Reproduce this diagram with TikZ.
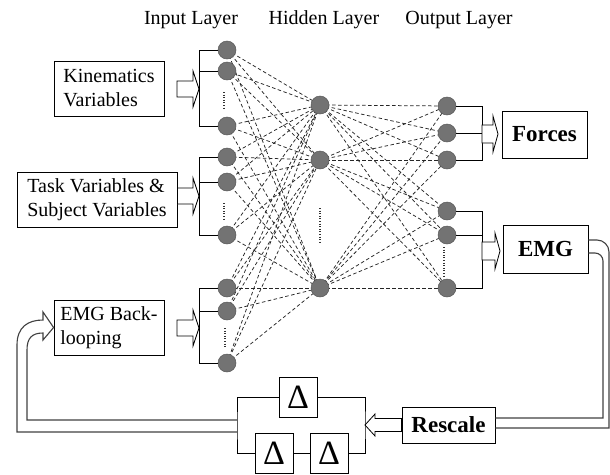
\documentclass[tikz,border=0pt]{standalone}
\usepackage{fontspec}
\setmainfont{Liberation Serif}
\usetikzlibrary{calc,backgrounds}

% hollow block arrow: start point, tip point, shaft half-height, head half-height, head length
\newcommand\blockarrow[5]{%
  \draw[hollow] let \p1=(#1), \p2=(#2) in
    (\x1,\y2+#3) -- (\x2-#5,\y2+#3) -- (\x2-#5,\y2+#4) -- (\x2,\y2)
    -- (\x2-#5,\y2-#4) -- (\x2-#5,\y2-#3) -- (\x1,\y2-#3) -- cycle;}

\begin{document}
\begin{tikzpicture}[x=1pt,y=-1pt,
  neuron/.style={circle, fill=black!55, draw=black!65, line width=0.5pt,
                 minimum size=18pt, inner sep=0pt},
  link/.style={draw=black!85, line width=0.75pt, dash pattern=on 3.5pt off 2.5pt},
  wire/.style={draw=black, line width=0.8pt},
  box/.style={draw=black, line width=0.8pt, fill=white, inner sep=0pt},
  inbox/.style={box, align=left, minimum height=55pt,
                font=\fontsize{20}{24}\selectfont},
  outbox/.style={box, font=\fontsize{23}{27}\selectfont\bfseries},
  dbox/.style={box, minimum width=38pt, minimum height=40pt,
               font=\fontsize{34}{36}\selectfont},
  title/.style={font=\fontsize{20}{24}\selectfont},
  pipe/.style={draw=black!75, line width=1.1pt},
  hollow/.style={draw=black, line width=0.8pt, fill=white, line join=miter},
  dotcol/.style={draw=black!80, line width=1.3pt, dash pattern=on 1pt off 1.6pt}
]
\useasboundingbox (0,0) rectangle (610,474);
\clip (0,0) rectangle (610,474);

% layer titles
\node[title] (tin)  at (191,20) {Input Layer};
\node[title] (thid) at (324,20) {Hidden Layer};
\node[title] (tout) at (459,20) {Output Layer};

% neurons
\foreach \n/\y in {1/50,2/71,3/126,4/157,5/182,6/235,7/288,8/311,9/363}
  \node[neuron] (in\n) at (227,\y) {};
\foreach \n/\y in {1/105,2/160,3/288}
  \node[neuron] (h\n) at (320,\y) {};
\foreach \n/\y in {1/106,2/133,3/160,4/211,5/235,6/288}
  \node[neuron] (o\n) at (447,\y) {};

% full connections
\begin{pgfonlayer}{background}
  \foreach \i in {1,...,9}
    \foreach \j in {1,2,3}
      \draw[link] (in\i.center) -- (h\j.center);
  \foreach \j in {1,2,3}
    \foreach \k in {1,...,6}
      \draw[link] (h\j.center) -- (o\k.center);
\end{pgfonlayer}

% elided neurons
\coordinate (e1a) at (224,92);  \coordinate (e1b) at (224,110);
\coordinate (e2a) at (224,203); \coordinate (e2b) at (224,219);
\coordinate (e3a) at (225,328); \coordinate (e3b) at (225,347);
\coordinate (ehA) at (320,208); \coordinate (ehB) at (320,243);
\coordinate (eoA) at (444,247); \coordinate (eoB) at (444,276);
\draw[dotcol] (e1a) -- (e1b);
\draw[dotcol] (e2a) -- (e2b);
\draw[dotcol] (e3a) -- (e3b);
\draw[dotcol] (ehA) -- (ehB);
\draw[dotcol] (eoA) -- (eoB);

% input brackets
\coordinate (ib1) at (199,89);
\coordinate (ib2) at (199,196);
\coordinate (ib3) at (199,328);
\draw[wire] (in1.west) -- (in1.west -| ib1) -- (in3.west -| ib1) -- (in3.west);
\draw[wire] (in2.west) -- (in2.west -| ib1);
\draw[wire] (in4.west) -- (in4.west -| ib2) -- (in6.west -| ib2) -- (in6.west);
\draw[wire] (in5.west) -- (in5.west -| ib2);
\draw[wire] (in7.west) -- (in7.west -| ib3) -- (in9.west -| ib3) -- (in9.west);
\draw[wire] (in8.west) -- (in8.west -| ib3);

% output brackets
\coordinate (ob1) at (482,134);
\coordinate (ob2) at (482,251);
\draw[wire] (o1.east) -- (o1.east -| ob1) -- (o3.east -| ob1) -- (o3.east);
\draw[wire] (o2.east) -- (o2.east -| ob1);
\draw[wire] (o4.east) -- (o4.east -| ob2) -- (o6.east -| ob2) -- (o6.east);
\draw[wire] (o5.east) -- (o5.east -| ob2);

% input boxes
\node[inbox, minimum width=110pt] (kin) at (109,88.5) {Kinematics\\Variables};
\node[inbox, minimum width=160pt] (task) at (97,199.5) {Task Variables \&\\Subject Variables};
\node[inbox, minimum width=110pt] (back) at (109,327.5) {EMG Back-\\looping};

% output boxes
\node[outbox, minimum width=85pt, minimum height=47pt] (forces) at (544.5,134.5) {Forces};
\node[outbox, minimum width=85pt, minimum height=48pt] (emg) at (545.5,249) {EMG};
\node[outbox, minimum width=93pt, minimum height=36pt] (resc) at (448.5,425) {Rescale};

% delay line
\node[dbox] (d1) at (298,397.5) {Δ};
\node[dbox] (d2) at (274,453.5) {Δ};
\node[dbox] (d3) at (329,453.5) {Δ};
\coordinate (jl) at (237,426);
\coordinate (jr) at (365,425);
\draw[wire] (d1.west) -| (jl) |- (d2.west);
\draw[wire] (d1.east) -| (jr) |- (d3.east);
\draw[wire] (d2.east) -- (d3.west);

% block arrows into the inputs and out of the outputs
\coordinate (ka) at (177,89);
\coordinate (ba) at (177,328);
\blockarrow{ka}{ib1}{8pt}{18pt}{6pt}
\blockarrow{task.east |- ib2}{ib2}{8pt}{18pt}{6pt}
\blockarrow{ba}{ib3}{8pt}{18pt}{6pt}
\coordinate (ft) at (498,134);
\coordinate (et) at (500,251);
\blockarrow{ob1}{ft}{9pt}{18pt}{5pt}
\blockarrow{ob2}{et}{9pt}{18pt}{5pt}
\blockarrow{resc.west}{jr}{6.5pt}{11pt}{-10pt}

% feedback pipe from EMG down to Rescale
\draw[pipe] ([yshift=9pt]emg.east) [rounded corners=12pt] -- (609,240) -- (609,300)
  [sharp corners] -- (609,428) -- ([yshift=-3pt]resc.east);
\draw[pipe] ([yshift=-4pt]emg.east) [rounded corners=8pt] -- (603,253) -- (603,300)
  [sharp corners] -- (603,418) -- ([yshift=7pt]resc.east);

% feedback pipe from the delay line back into the EMG back-looping box
\draw[pipe] ([yshift=-6pt]jl) -- (17,432) -- (17,345)
  .. controls (17,327) and (28,320) .. (43,320) -- (43,312) -- (back.west)
  -- (43,340) -- (43,333)
  .. controls (32,333) and (27,338) .. (27,350) -- (27,420) -- ([yshift=6pt]jl);
\end{tikzpicture}
\end{document}
